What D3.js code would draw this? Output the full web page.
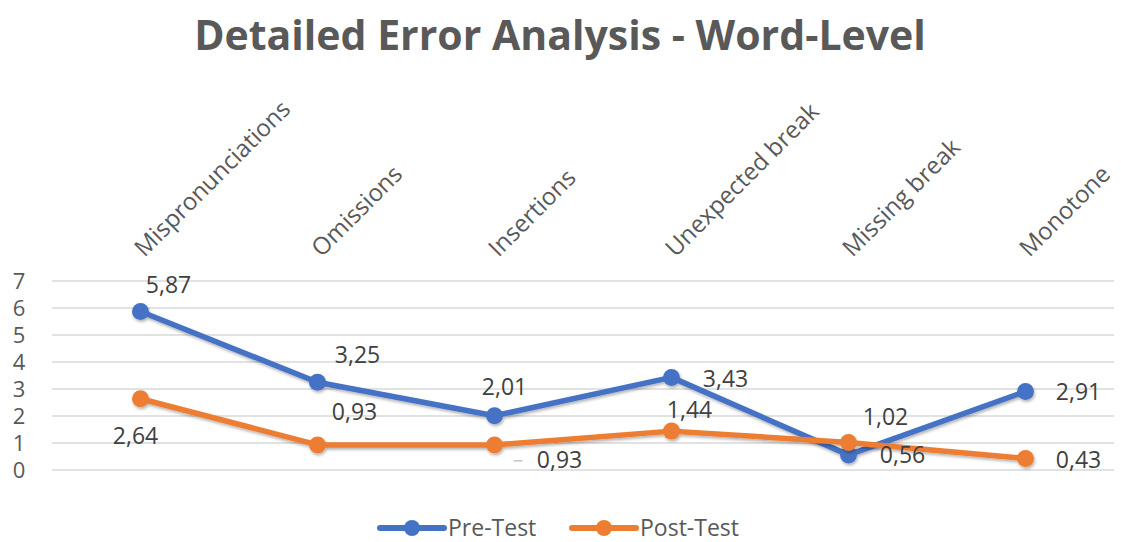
<!DOCTYPE html>
<html>
<head>
<meta charset="utf-8">
<script src="https://cdn.jsdelivr.net/npm/d3@7"></script>
<style>
  body { margin: 0; background: #fff; }
  text { font-family: "Open Sans", sans-serif; }
</style>
</head>
<body>
<div id="chart"></div>
<script>
// data
var categories = ["Mispronunciations", "Omissions", "Insertions", "Unexpected break", "Missing break", "Monotone"];
var preTest = [5.87, 3.25, 2.01, 3.43, 0.56, 2.91];
var postTest = [2.64, 0.93, 0.93, 1.44, 1.02, 0.43];
var yTicks = [0, 1, 2, 3, 4, 5, 6, 7];
var seriesNames = ["Pre-Test", "Post-Test"];

// label offsets (dx, dy from point) - layout only
var preLabelOffset = [[28, -19], [40, -19], [10, -21], [54, 10], [54, 8], [53, 9]];
var postLabelOffset = [[-5, 45], [37, -25], [65, 23], [18, -13], [37, -17], [53, 10]];

var W = 1121, H = 542;
var margin = { left: 52, right: 7 };

var svg = d3.select("#chart").append("svg")
    .attr("width", W)
    .attr("height", H);

var defs = svg.append("defs");
var f = defs.append("filter").attr("id", "shadow")
    .attr("x", "-20%").attr("y", "-20%").attr("width", "140%").attr("height", "160%");
f.append("feDropShadow").attr("dx", 1).attr("dy", 2).attr("stdDeviation", 1.5)
    .attr("flood-color", "#000").attr("flood-opacity", 0.3);

svg.append("text")
    .attr("x", 560).attr("y", 50)
    .attr("text-anchor", "middle")
    .attr("font-size", "41px")
    .attr("font-weight", "bold")
    .attr("fill", "#595959")
    .text("Detailed Error Analysis - Word-Level");

var x = d3.scaleBand()
    .domain(categories)
    .range([margin.left, W - margin.right]);

var y = d3.scaleLinear()
    .domain([0, 7])
    .range([470, 281]);

// gridlines
svg.append("g")
    .selectAll("line")
    .data(yTicks)
    .enter()
    .append("line")
    .attr("x1", margin.left)
    .attr("x2", W - margin.right)
    .attr("y1", function (d) { return y(d); })
    .attr("y2", function (d) { return y(d); })
    .attr("stroke", "#d9d9d9")
    .attr("stroke-width", 1.5);

// y axis
var yAxis = d3.axisLeft(y)
    .tickValues(yTicks)
    .tickFormat(d3.format("d"))
    .tickSize(0)
    .tickPadding(0);

var gy = svg.append("g")
    .attr("transform", "translate(19,0)")
    .call(yAxis);
gy.select(".domain").remove();
gy.selectAll("text")
    .attr("font-family", "Open Sans, sans-serif")
    .attr("font-size", "22px")
    .attr("fill", "#595959")
    .attr("text-anchor", "middle");

// category labels (top, rotated)
svg.append("g")
    .selectAll("text")
    .data(categories)
    .enter()
    .append("text")
    .attr("transform", function (d) {
        return "translate(" + (x(d) + x.bandwidth() / 2 + 4) + ",258) rotate(-45)";
    })
    .attr("font-size", "24px")
    .attr("fill", "#595959")
    .text(function (d) { return d; });

var line = d3.line()
    .x(function (d, i) { return x(categories[i]) + x.bandwidth() / 2; })
    .y(function (d) { return y(d); });

function drawSeries(values, color) {
    var g = svg.append("g").attr("filter", "url(#shadow)");
    g.append("path")
        .datum(values)
        .attr("d", line)
        .attr("fill", "none")
        .attr("stroke", color)
        .attr("stroke-width", 5.5)
        .attr("stroke-linejoin", "round");
    g.selectAll("circle")
        .data(values)
        .enter()
        .append("circle")
        .attr("cx", function (d, i) { return x(categories[i]) + x.bandwidth() / 2; })
        .attr("cy", function (d) { return y(d); })
        .attr("r", 8.5)
        .attr("fill", color);
}

drawSeries(preTest, "#4472C4");
drawSeries(postTest, "#ED7D31");

function fmt(v) { return d3.format(".2f")(v).replace(".", ","); }

function drawLabels(values, offsets) {
    svg.append("g")
        .selectAll("text")
        .data(values)
        .enter()
        .append("text")
        .attr("x", function (d, i) { return x(categories[i]) + x.bandwidth() / 2 + offsets[i][0]; })
        .attr("y", function (d, i) { return y(d) + offsets[i][1]; })
        .attr("text-anchor", "middle")
        .attr("font-size", "23px")
        .attr("fill", "#404040")
        .text(fmt);
}
drawLabels(preTest, preLabelOffset);
drawLabels(postTest, postLabelOffset);

// leader line for Insertions post label
var ix = x(categories[2]) + x.bandwidth() / 2;
svg.append("line")
    .attr("x1", ix + 19).attr("x2", ix + 28)
    .attr("y1", y(postTest[2]) + 16).attr("y2", y(postTest[2]) + 16)
    .attr("stroke", "#a6a6a6").attr("stroke-width", 1);

// legend
var legend = svg.append("g").attr("transform", "translate(380,528)");
var legendColors = ["#4472C4", "#ED7D31"];
var legendX = [0, 192];
seriesNames.forEach(function (name, i) {
    var lg = legend.append("g").attr("transform", "translate(" + legendX[i] + ",0)");
    lg.append("line")
        .attr("x1", 0).attr("x2", 64)
        .attr("stroke", legendColors[i])
        .attr("stroke-width", 6)
        .attr("stroke-linecap", "round");
    lg.append("circle")
        .attr("cx", 32).attr("r", 8)
        .attr("fill", legendColors[i]);
    lg.append("text")
        .attr("x", 68).attr("y", 8)
        .attr("font-size", "23px")
        .attr("fill", "#595959")
        .text(name);
});
</script>
</body>
</html>
